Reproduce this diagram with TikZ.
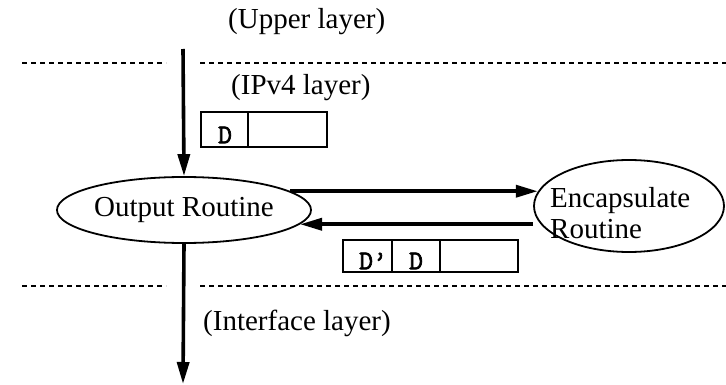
\documentclass[tikz,border=0pt]{standalone}
\usepackage{fontspec}
\setmainfont{Liberation Serif}
\newfontfamily\codefont{Latin Modern Mono}[FakeBold=2.5]
\usetikzlibrary{arrows.meta,shapes.geometric}
\begin{document}
\begin{tikzpicture}[x=1pt,y=-1pt,
  every node/.style={font=\fontsize{29}{31}\selectfont},
  layertext/.style={anchor=west,inner sep=0pt},
  routine/.style={draw,ellipse,line width=1.8pt,inner sep=0pt},
  arr/.style={line width=3.6pt,-{Triangle[length=22pt,width=12pt]}},
  layerline/.style={line width=2pt,dash pattern=on 5pt off 4pt},
  cell/.style={line width=1.8pt},
  code/.style={inner sep=0pt,font=\fontsize{27}{27}\selectfont\codefont}]
\useasboundingbox (0,0) rectangle (726,385);

% layer boundaries
\draw[layerline] (22,63) -- (166,63);
\draw[layerline] (200,63) -- (726,63);
\draw[layerline] (22,286) -- (166,286);
\draw[layerline] (200,286) -- (726,286);

% layer names
\node[layertext] (upper) at (228,22) {(Upper layer)};
\node[layertext] (ipv4) at (231,88) {(IPv4 layer)};
\node[layertext] (iface) at (203,323) {(Interface layer)};

% routines
\node[routine,minimum width=252pt,minimum height=66pt] (out) at (184,210) {Output Routine};
\node[routine,minimum width=190pt,minimum height=92pt] (enc) at (629,206) {};
\node[inner sep=0pt,anchor=west,align=left] (enctext) at (550,213) {Encapsulate\\Routine};

% packet handed down from the upper layer
\draw[cell] (201,112) rectangle (327,147);
\draw[cell] (248,112) -- (248,147);
\node[code] (d1) at (225,135) {D};

% packet after encapsulation
\draw[cell] (343,240) rectangle (518,272);
\draw[cell] (392,240) -- (392,272);
\draw[cell] (440,240) -- (440,272);
\node[code] (d2a) at (373,261) {D’};
\node[code] (d2b) at (416,261) {D};

% data flow
\coordinate (top) at (183,49);
\coordinate (bottom) at (183,384);
\draw[arr] (top) -- (out.north);
\draw[arr] (out.south) -- (bottom);
\draw[arr] (out.10) -- (out.10 -| enc.171);
\draw[arr] (enc.west |- out.-7) -- (out.-7);
\end{tikzpicture}
\end{document}
